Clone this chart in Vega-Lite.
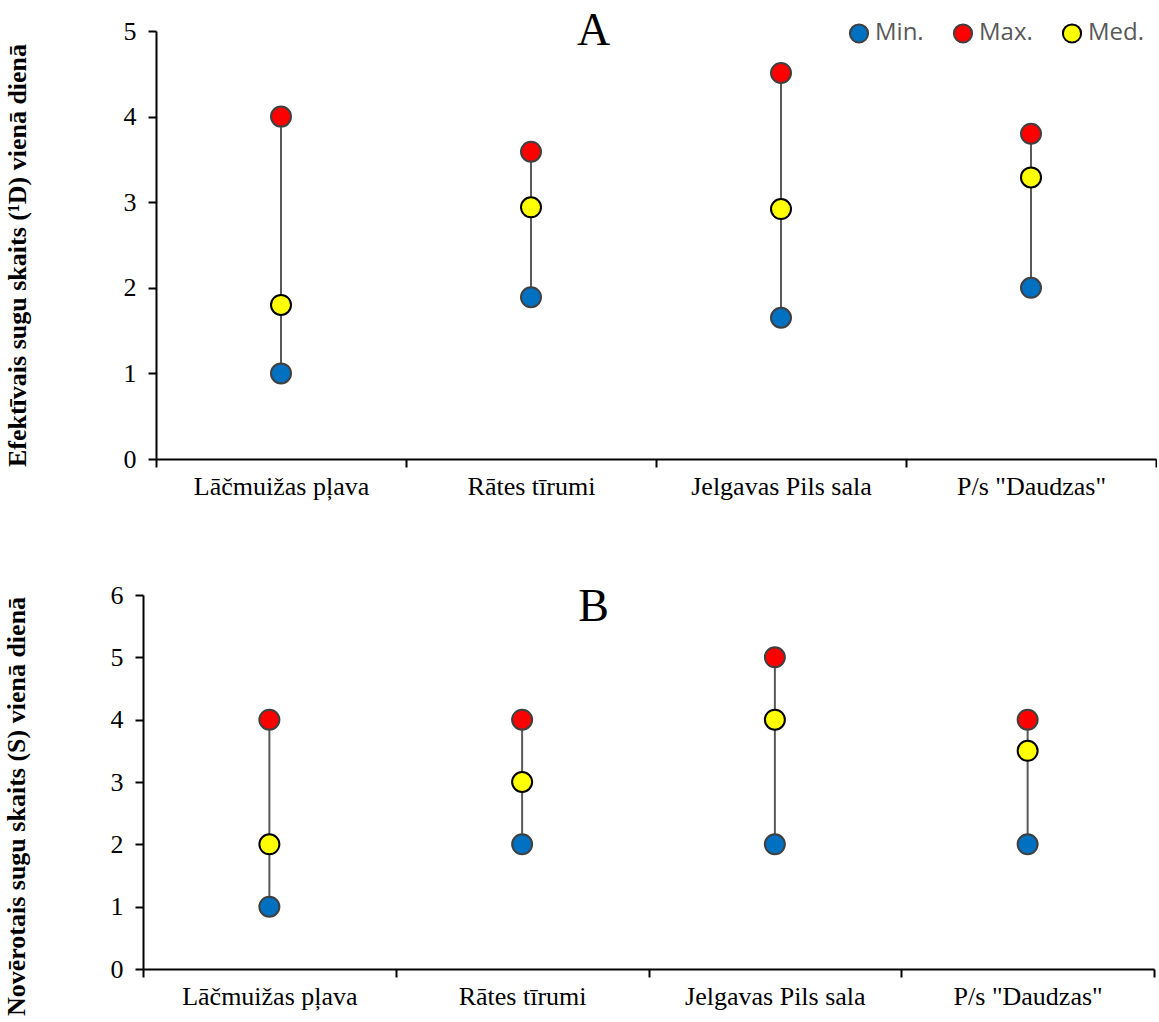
{
  "$schema": "https://vega.github.io/schema/vega-lite/v6.json",
  "padding": {"left": 3, "top": 8, "right": 0, "bottom": 0},
  "background": "white",
  "datasets": {
    "A": [
      {"site": "Lāčmuižas pļava", "stat": "Min.", "value": 1.0},
      {"site": "Lāčmuižas pļava", "stat": "Max.", "value": 4.0},
      {"site": "Lāčmuižas pļava", "stat": "Med.", "value": 1.8},
      {"site": "Rātes tīrumi", "stat": "Min.", "value": 1.89},
      {"site": "Rātes tīrumi", "stat": "Max.", "value": 3.59},
      {"site": "Rātes tīrumi", "stat": "Med.", "value": 2.94},
      {"site": "Jelgavas Pils sala", "stat": "Min.", "value": 1.65},
      {"site": "Jelgavas Pils sala", "stat": "Max.", "value": 4.51},
      {"site": "Jelgavas Pils sala", "stat": "Med.", "value": 2.92},
      {"site": "P/s \"Daudzas\"", "stat": "Min.", "value": 2.0},
      {"site": "P/s \"Daudzas\"", "stat": "Max.", "value": 3.8},
      {"site": "P/s \"Daudzas\"", "stat": "Med.", "value": 3.29}
    ],
    "B": [
      {"site": "Lāčmuižas pļava", "stat": "Min.", "value": 1},
      {"site": "Lāčmuižas pļava", "stat": "Max.", "value": 4},
      {"site": "Lāčmuižas pļava", "stat": "Med.", "value": 2},
      {"site": "Rātes tīrumi", "stat": "Min.", "value": 2},
      {"site": "Rātes tīrumi", "stat": "Max.", "value": 4},
      {"site": "Rātes tīrumi", "stat": "Med.", "value": 3},
      {"site": "Jelgavas Pils sala", "stat": "Min.", "value": 2},
      {"site": "Jelgavas Pils sala", "stat": "Max.", "value": 5},
      {"site": "Jelgavas Pils sala", "stat": "Med.", "value": 4},
      {"site": "P/s \"Daudzas\"", "stat": "Min.", "value": 2},
      {"site": "P/s \"Daudzas\"", "stat": "Max.", "value": 4},
      {"site": "P/s \"Daudzas\"", "stat": "Med.", "value": 3.5}
    ]
  },
  "config": {
    "view": {"stroke": null},
    "axis": {
      "domainColor": "black", "domainWidth": 2, "tickColor": "black", "tickWidth": 2, "tickSize": 8,
      "labelFont": "Liberation Serif", "labelFontSize": 26, "labelColor": "black", "labelLimit": 0,
      "titleFont": "Liberation Serif", "titleFontSize": 26, "titleFontWeight": "bold", "titleColor": "black",
      "grid": false
    },
    "title": {"font": "Liberation Serif", "fontSize": 46, "fontWeight": "normal", "color": "black"}
  },
  "spacing": 83,
  "vconcat": [
    {
      "width": 1013, "height": 428,
      "data": {"name": "A"},
      "title": {"text": "A", "anchor": "middle", "dx": -56, "offset": -37},
      "encoding": {
        "x": {"field": "site", "type": "nominal", "sort": null,
              "scale": {"type": "band", "paddingInner": 0, "paddingOuter": 0, "range": [13, 1013]},
              "axis": {"title": null, "labelAngle": 0, "labelPadding": 6, "tickBand": "extent"}}
      },
      "layer": [
        {
          "mark": {"type": "rule", "color": "#595959", "strokeWidth": 2},
          "encoding": {
            "y": {"aggregate": "min", "field": "value", "type": "quantitative", "scale": {"domain": [0, 5]},
                  "axis": {"title": "Efektīvais sugu skaits (¹D) vienā dienā", "values": [0,1,2,3,4,5], "format": "d", "labelPadding": 12, "titlePadding": 93, "titleY": 224, "offset": -13}},
            "y2": {"aggregate": "max", "field": "value"}
          }
        },
        {
          "mark": {"type": "point", "shape": "circle", "filled": true, "size": 400, "strokeWidth": 2, "opacity": 1},
          "encoding": {
            "y": {"field": "value", "type": "quantitative"},
            "fill": {"field": "stat", "type": "nominal", "title": null,
                     "scale": {"domain": ["Min.", "Max.", "Med."], "range": ["#0070C0", "#FF0000", "#FFFF00"]},
                     "legend": {"orient": "none", "direction": "horizontal", "legendX": 704, "legendY": -10,
                                "labelFont": "Open Sans", "labelFontSize": 24, "labelColor": "#595959",
                                "symbolSize": 330, "symbolStrokeWidth": 2, "columnPadding": 25, "labelOffset": 4}},
            "stroke": {"field": "stat", "type": "nominal", "title": null,
                       "scale": {"domain": ["Min.", "Max.", "Med."], "range": ["#404040", "#404040", "#000000"]},
                       "legend": {"orient": "none", "direction": "horizontal", "legendX": 704, "legendY": -10,
                                "labelFont": "Open Sans", "labelFontSize": 24, "labelColor": "#595959",
                                "symbolSize": 330, "symbolStrokeWidth": 2, "columnPadding": 25, "labelOffset": 4}}
          }
        }
      ]
    },
    {
      "width": 1011, "height": 374,
      "data": {"name": "B"},
      "title": {"text": "B", "anchor": "middle", "dx": -55, "offset": -49},
      "encoding": {
        "x": {"field": "site", "type": "nominal", "sort": null,
              "scale": {"type": "band", "paddingInner": 0, "paddingOuter": 0},
              "axis": {"title": null, "labelAngle": 0, "labelPadding": 6, "tickBand": "extent"}}
      },
      "layer": [
        {
          "mark": {"type": "rule", "color": "#595959", "strokeWidth": 2},
          "encoding": {
            "y": {"aggregate": "min", "field": "value", "type": "quantitative", "scale": {"domain": [0, 6]},
                  "axis": {"title": "Novērotais sugu skaits (S) vienā dienā", "values": [0,1,2,3,4,5,6], "format": "d", "labelPadding": 12, "titlePadding": 81, "titleY": 211}},
            "y2": {"aggregate": "max", "field": "value"}
          }
        },
        {
          "mark": {"type": "point", "shape": "circle", "filled": true, "size": 400, "strokeWidth": 2, "opacity": 1},
          "encoding": {
            "y": {"field": "value", "type": "quantitative"},
            "fill": {"field": "stat", "type": "nominal", "legend": null},
            "stroke": {"field": "stat", "type": "nominal", "legend": null}
          }
        }
      ]
    }
  ]
}
